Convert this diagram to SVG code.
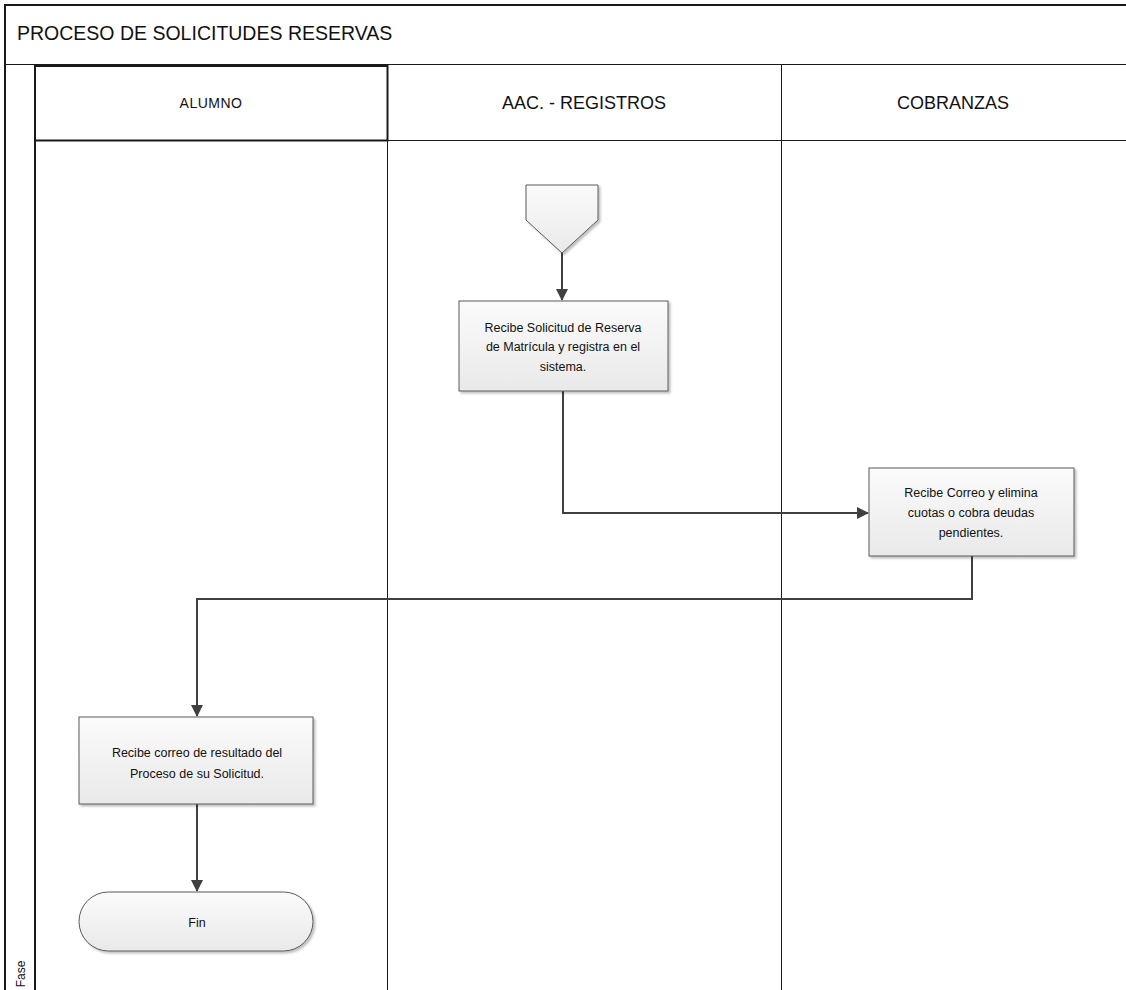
<svg xmlns="http://www.w3.org/2000/svg" width="1126" height="990" viewBox="0 0 1126 990">
  <style>
    .frame { fill: none; stroke: #1a1a1a; stroke-width: 2; }
    .lane { fill: none; stroke: #1a1a1a; stroke-width: 1; }
    .title { font-family: "Liberation Sans", Arial, sans-serif; font-size: 19.5px; fill: #111; }
    .head { font-family: "Liberation Sans", Arial, sans-serif; fill: #111; text-anchor: middle; }
    .box { fill: url(#boxFill); stroke: #5a5a5a; stroke-width: 1; filter: url(#shadow); }
    .label { font-family: "Liberation Sans", Arial, sans-serif; font-size: 12.5px; fill: #111; text-anchor: middle; }
    .conn { fill: none; stroke: #404040; stroke-width: 2; marker-end: url(#arrow); }
  </style>
  <defs>
    <linearGradient id="boxFill" x1="0" y1="0" x2="0" y2="1">
      <stop offset="0" stop-color="#fbfbfb"/>
      <stop offset="1" stop-color="#e9e9e9"/>
    </linearGradient>
    <filter id="shadow" x="-10%" y="-10%" width="130%" height="130%">
      <feDropShadow dx="2" dy="2" stdDeviation="1.2" flood-color="#000" flood-opacity="0.25"/>
    </filter>
    <marker id="arrow" viewBox="0 0 12 12" refX="11" refY="6" markerWidth="6" markerHeight="6" markerUnits="strokeWidth" orient="auto">
      <path d="M0,0 L12,6 L0,12 z" fill="#404040"/>
    </marker>
  </defs>

  <!-- pool frame and swimlanes -->
  <g id="pool">
    <rect class="frame" x="5" y="5" width="1125" height="990"/>
    <line class="lane" x1="5" y1="64.5" x2="1126" y2="64.5"/>
    <line class="lane" x1="35" y1="140.5" x2="1126" y2="140.5"/>
    <line class="lane" x1="387.5" y1="64" x2="387.5" y2="990"/>
    <line class="lane" x1="781.5" y1="64" x2="781.5" y2="990"/>
    <line x1="35" y1="64" x2="35" y2="990" stroke="#1a1a1a" stroke-width="2"/>
    <!-- selected header cell of the first lane -->
    <rect x="35" y="66" width="352.5" height="74.5" fill="none" stroke="#1a1a1a" stroke-width="2"/>
    <text class="title" x="17" y="40">PROCESO DE SOLICITUDES RESERVAS</text>
    <text class="head" x="211" y="108" font-size="14" letter-spacing="0.5">ALUMNO</text>
    <text class="head" x="584" y="109" font-size="18">AAC. - REGISTROS</text>
    <text class="head" x="953" y="109" font-size="18">COBRANZAS</text>
    <text class="head" font-size="12" transform="translate(25,974) rotate(-90)">Fase</text>
  </g>

  <!-- connectors -->
  <g id="connectors">
    <path class="conn" d="M562,253 L562,300"/>
    <path class="conn" d="M563,391 L563,513 L868,513"/>
    <path class="conn" d="M972,556 L972,599 L197,599 L197,716"/>
    <path class="conn" d="M197,804 L197,891"/>
  </g>

  <!-- start: off-page reference -->
  <g id="start">
    <path class="box" d="M526,185 L598,185 L598,220 L562,253 L526,220 Z"/>
  </g>

  <g id="recibe-solicitud">
    <rect class="box" x="459" y="301" width="209" height="90"/>
    <text class="label" x="563" y="332">Recibe Solicitud de Reserva</text>
    <text class="label" x="563" y="351">de Matrícula y registra en el</text>
    <text class="label" x="563" y="371">sistema.</text>
  </g>

  <g id="recibe-correo-cobranzas">
    <rect class="box" x="869" y="468" width="205" height="88"/>
    <text class="label" x="971" y="497">Recibe Correo y elimina</text>
    <text class="label" x="971" y="517">cuotas o cobra deudas</text>
    <text class="label" x="971" y="537">pendientes.</text>
  </g>

  <g id="recibe-correo-alumno">
    <rect class="box" x="79" y="717" width="234" height="87"/>
    <text class="label" x="197" y="757">Recibe correo de resultado del</text>
    <text class="label" x="197" y="778">Proceso de su Solicitud.</text>
  </g>

  <g id="fin">
    <rect class="box" x="79" y="892" width="234" height="59" rx="29.5" ry="29.5"/>
    <text class="label" x="197" y="927">Fin</text>
  </g>
</svg>
